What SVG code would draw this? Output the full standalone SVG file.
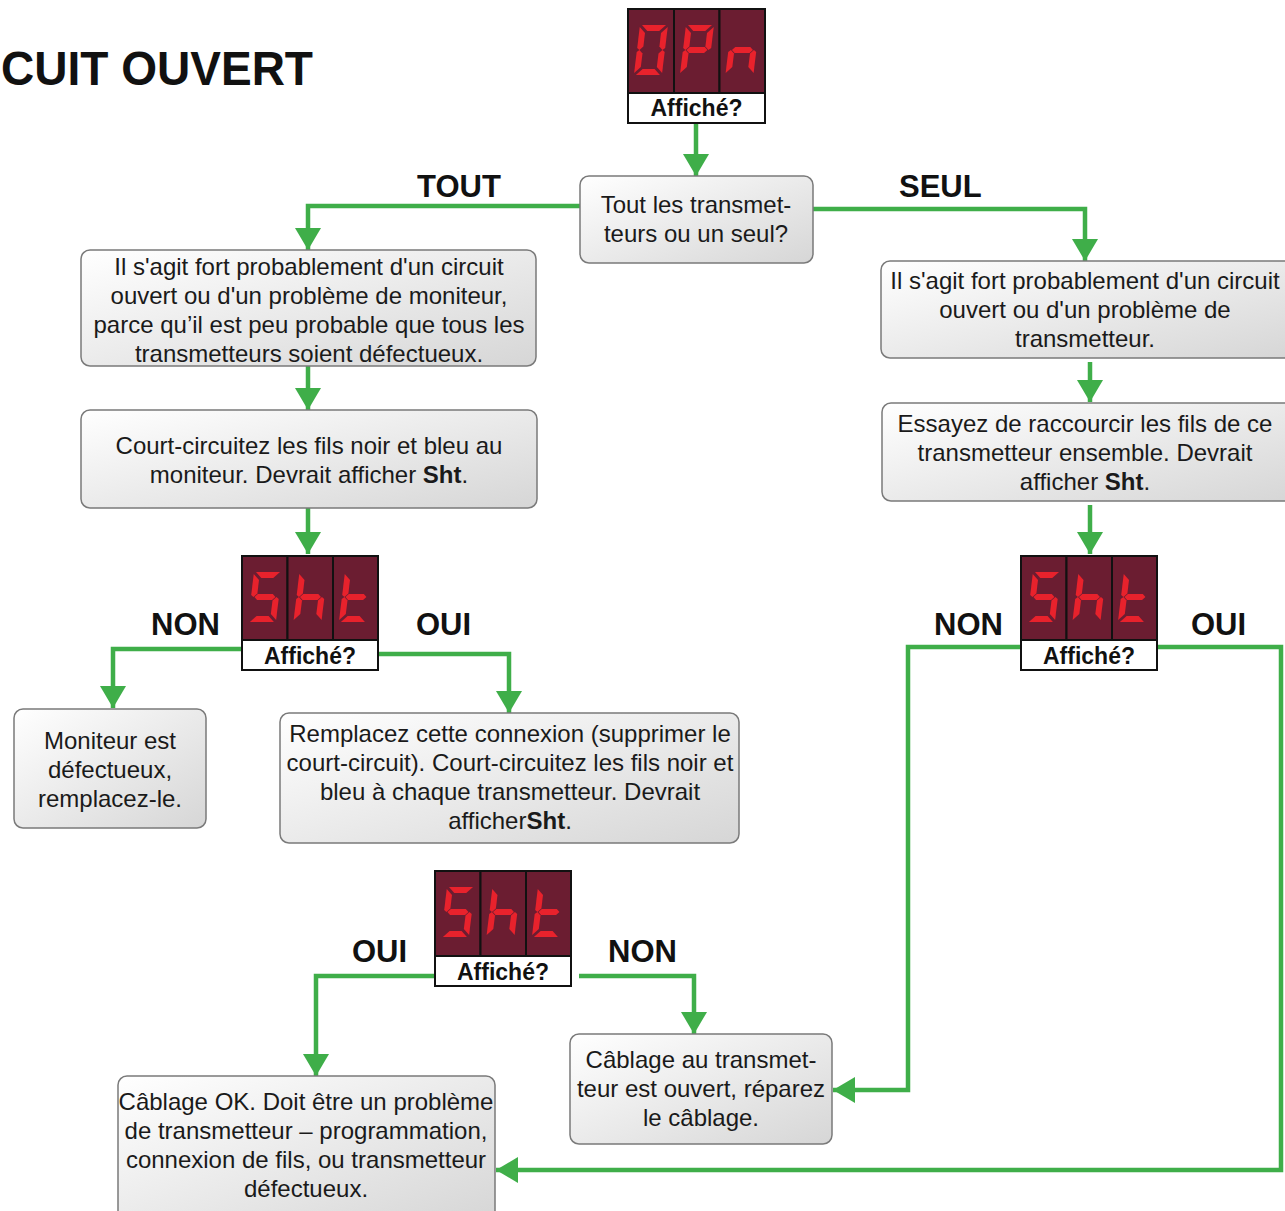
<svg xmlns="http://www.w3.org/2000/svg" width="1285" height="1211" viewBox="0 0 1285 1211">
<style>
  .box { fill: url(#boxg); stroke: #7a7a7a; stroke-width: 1.5; }
  .txt { font-family: "Liberation Sans", Arial, sans-serif; font-size: 24px; fill: #1a1a1a; text-anchor: middle; }
  .lbl { font-family: "Liberation Sans", Arial, sans-serif; font-size: 31px; font-weight: bold; fill: #111; }
  .title { font-family: "Liberation Sans", Arial, sans-serif; font-size: 48px; font-weight: bold; fill: #111; }
  .aff { font-family: "Liberation Sans", Arial, sans-serif; font-size: 23px; font-weight: bold; fill: #111; text-anchor: middle; }
  .cell { fill: #6b1d31; stroke: #111; stroke-width: 2; }
  .affbox { fill: #fff; stroke: #111; stroke-width: 2; }
  .seg { fill: #e8222c; }
  .conn { fill: none; stroke: #3fae49; stroke-width: 4.5; }
  .b { font-weight: bold; }
</style>
<defs>
  <linearGradient id="boxg" x1="0" y1="0" x2="1" y2="1">
    <stop offset="0" stop-color="#ffffff"/>
    <stop offset="1" stop-color="#d6d6d6"/>
  </linearGradient>
  <marker id="arr" markerUnits="userSpaceOnUse" markerWidth="24" markerHeight="26" refX="22" refY="13" orient="auto">
    <path d="M0,0 L22,13 L0,26 z" fill="#3fae49"/>
  </marker>
  <polygon id="sa" class="seg" points="2,0 26,0 20,6 8,6"/>
  <polygon id="sb" class="seg" points="28,2 28,23 25.5,25 22,21.5 22,8"/>
  <polygon id="sc" class="seg" points="28,27 28,48 22,42 22,28.5 25.5,25"/>
  <polygon id="sd" class="seg" points="8,44 20,44 26,50 2,50"/>
  <polygon id="se" class="seg" points="0,27 2.5,25 6,28.5 6,42 0,48"/>
  <polygon id="sf" class="seg" points="0,2 6,8 6,21.5 2.5,25 0,23"/>
  <polygon id="sg" class="seg" points="3.5,25 6.5,22 21.5,22 24.5,25 21.5,28 6.5,28"/>
  <g id="dO"><use href="#sa"/><use href="#sb"/><use href="#sc"/><use href="#sd"/><use href="#se"/><use href="#sf"/></g>
  <g id="dP"><use href="#sa"/><use href="#sb"/><use href="#se"/><use href="#sf"/><use href="#sg"/></g>
  <g id="dn"><use href="#sc"/><use href="#se"/><use href="#sg"/></g>
  <g id="dS"><use href="#sa"/><use href="#sf"/><use href="#sg"/><use href="#sc"/><use href="#sd"/></g>
  <g id="dh"><use href="#sf"/><use href="#se"/><use href="#sg"/><use href="#sc"/></g>
  <g id="dt"><use href="#sf"/><use href="#se"/><use href="#sg"/><use href="#sd"/></g>
</defs>

<rect width="1285" height="1211" fill="#ffffff"/>

<text class="title" x="1" y="85" textLength="312" lengthAdjust="spacingAndGlyphs">CUIT OUVERT</text>

<!-- Connectors -->
<g id="connectors">
  <path class="conn" d="M696,123 V176" marker-end="url(#arr)"/>
  <path class="conn" d="M580,206 H308 V250" marker-end="url(#arr)"/>
  <path class="conn" d="M813,209 H1085 V261" marker-end="url(#arr)"/>
  <path class="conn" d="M308,366 V410" marker-end="url(#arr)"/>
  <path class="conn" d="M308,508 V554" marker-end="url(#arr)"/>
  <path class="conn" d="M242,649 H113 V708" marker-end="url(#arr)"/>
  <path class="conn" d="M378,654 H509 V713" marker-end="url(#arr)"/>
  <path class="conn" d="M1090,362 V402" marker-end="url(#arr)"/>
  <path class="conn" d="M1090,505 V554" marker-end="url(#arr)"/>
  <path class="conn" d="M1021,647 H908 V1090 H833" marker-end="url(#arr)"/>
  <path class="conn" d="M1157,647 H1281 V1170 H496" marker-end="url(#arr)"/>
  <path class="conn" d="M435,976 H316 V1076" marker-end="url(#arr)"/>
  <path class="conn" d="M579,976 H694 V1034" marker-end="url(#arr)"/>
</g>

<!-- Labels -->
<g id="labels">
  <text class="lbl" x="417" y="197">TOUT</text>
  <text class="lbl" x="899" y="197">SEUL</text>
  <text class="lbl" x="151" y="635">NON</text>
  <text class="lbl" x="416" y="635">OUI</text>
  <text class="lbl" x="934" y="635">NON</text>
  <text class="lbl" x="1191" y="635">OUI</text>
  <text class="lbl" x="352" y="962">OUI</text>
  <text class="lbl" x="608" y="962">NON</text>
</g>

<!-- Display OPn -->
<g id="disp-opn">
  <rect class="cell" x="628" y="9" width="46" height="84"/>
  <rect class="cell" x="674" y="9" width="45.5" height="84"/>
  <rect class="cell" x="719.5" y="9" width="45.5" height="84"/>
  <use href="#dO" transform="translate(640,25) skewX(-7)"/>
  <use href="#dP" transform="translate(686,25) skewX(-7)"/>
  <use href="#dn" transform="translate(731.5,25) skewX(-7)"/>
  <rect class="affbox" x="628" y="93" width="137" height="30"/>
  <text class="aff" x="696.5" y="116">Affiché?</text>
</g>

<!-- Question -->
<g id="n-question">
  <rect class="box" x="580" y="176" width="233" height="87" rx="9"/>
  <text class="txt" x="696" y="213">Tout les transmet-</text>
  <text class="txt" x="696" y="242">teurs ou un seul?</text>
</g>

<!-- Left box 1 -->
<g id="n-left1">
  <rect class="box" x="81" y="250" width="455" height="116" rx="9"/>
  <text class="txt" x="309" y="275">Il s'agit fort probablement d'un circuit</text>
  <text class="txt" x="309" y="304">ouvert ou d'un problème de moniteur,</text>
  <text class="txt" x="309" y="333">parce qu’il est peu probable que tous les</text>
  <text class="txt" x="309" y="362">transmetteurs soient défectueux.</text>
</g>

<!-- Left box 2 -->
<g id="n-left2">
  <rect class="box" x="81" y="410" width="456" height="98" rx="9"/>
  <text class="txt" x="309" y="454">Court-circuitez les fils noir et bleu au</text>
  <text class="txt" x="309" y="483">moniteur. Devrait afficher <tspan class="b">Sht</tspan>.</text>
</g>

<!-- Left Sht display -->
<g id="disp-sht-left">
  <rect class="cell" x="242" y="556" width="45.5" height="84"/>
  <rect class="cell" x="287.5" y="556" width="45.5" height="84"/>
  <rect class="cell" x="333" y="556" width="45" height="84"/>
  <use href="#dS" transform="translate(254,572) skewX(-7)"/>
  <use href="#dh" transform="translate(299.5,572) skewX(-7)"/>
  <use href="#dt" transform="translate(345,572) skewX(-7)"/>
  <rect class="affbox" x="242" y="640" width="136" height="30"/>
  <text class="aff" x="310" y="664">Affiché?</text>
</g>

<!-- Moniteur -->
<g id="n-moniteur">
  <rect class="box" x="14" y="709" width="192" height="119" rx="9"/>
  <text class="txt" x="110" y="749">Moniteur est</text>
  <text class="txt" x="110" y="778">défectueux,</text>
  <text class="txt" x="110" y="807">remplacez-le.</text>
</g>

<!-- Remplacez -->
<g id="n-remplacez">
  <rect class="box" x="280" y="713" width="459" height="130" rx="9"/>
  <text class="txt" x="510" y="742">Remplacez cette connexion (supprimer le</text>
  <text class="txt" x="510" y="771">court-circuit). Court-circuitez les fils noir et</text>
  <text class="txt" x="510" y="800">bleu à chaque transmetteur. Devrait</text>
  <text class="txt" x="510" y="829">afficher<tspan class="b">Sht</tspan>.</text>
</g>

<!-- Right box 1 -->
<g id="n-right1">
  <rect class="box" x="881" y="261" width="412" height="97" rx="9"/>
  <text class="txt" x="1085" y="289">Il s'agit fort probablement d'un circuit</text>
  <text class="txt" x="1085" y="318">ouvert ou d'un problème de</text>
  <text class="txt" x="1085" y="347">transmetteur.</text>
</g>

<!-- Right box 2 -->
<g id="n-right2">
  <rect class="box" x="882" y="403" width="411" height="98" rx="9"/>
  <text class="txt" x="1085" y="432">Essayez de raccourcir les fils de ce</text>
  <text class="txt" x="1085" y="461">transmetteur ensemble. Devrait</text>
  <text class="txt" x="1085" y="490">afficher <tspan class="b">Sht</tspan>.</text>
</g>

<!-- Right Sht display -->
<g id="disp-sht-right">
  <rect class="cell" x="1021" y="556" width="45.5" height="84"/>
  <rect class="cell" x="1066.5" y="556" width="45.5" height="84"/>
  <rect class="cell" x="1112" y="556" width="45" height="84"/>
  <use href="#dS" transform="translate(1033,572) skewX(-7)"/>
  <use href="#dh" transform="translate(1078.5,572) skewX(-7)"/>
  <use href="#dt" transform="translate(1124,572) skewX(-7)"/>
  <rect class="affbox" x="1021" y="640" width="136" height="30"/>
  <text class="aff" x="1089" y="664">Affiché?</text>
</g>

<!-- Bottom Sht display -->
<g id="disp-sht-bottom">
  <rect class="cell" x="435" y="871" width="45.5" height="85"/>
  <rect class="cell" x="480.5" y="871" width="45.5" height="85"/>
  <rect class="cell" x="526" y="871" width="45" height="85"/>
  <use href="#dS" transform="translate(447,887) skewX(-7)"/>
  <use href="#dh" transform="translate(492.5,887) skewX(-7)"/>
  <use href="#dt" transform="translate(538,887) skewX(-7)"/>
  <rect class="affbox" x="435" y="956" width="136" height="30"/>
  <text class="aff" x="503" y="980">Affiché?</text>
</g>

<!-- Câblage au transmetteur -->
<g id="n-cablage-ouvert">
  <rect class="box" x="570" y="1034" width="262" height="110" rx="9"/>
  <text class="txt" x="701" y="1068">Câblage au transmet-</text>
  <text class="txt" x="701" y="1097">teur est ouvert, réparez</text>
  <text class="txt" x="701" y="1126">le câblage.</text>
</g>

<!-- Câblage OK -->
<g id="n-cablage-ok">
  <rect class="box" x="118" y="1076" width="377" height="145" rx="9"/>
  <text class="txt" x="306" y="1110">Câblage OK. Doit être un problème</text>
  <text class="txt" x="306" y="1139">de transmetteur – programmation,</text>
  <text class="txt" x="306" y="1168">connexion de fils, ou transmetteur</text>
  <text class="txt" x="306" y="1197">défectueux.</text>
</g>
</svg>
